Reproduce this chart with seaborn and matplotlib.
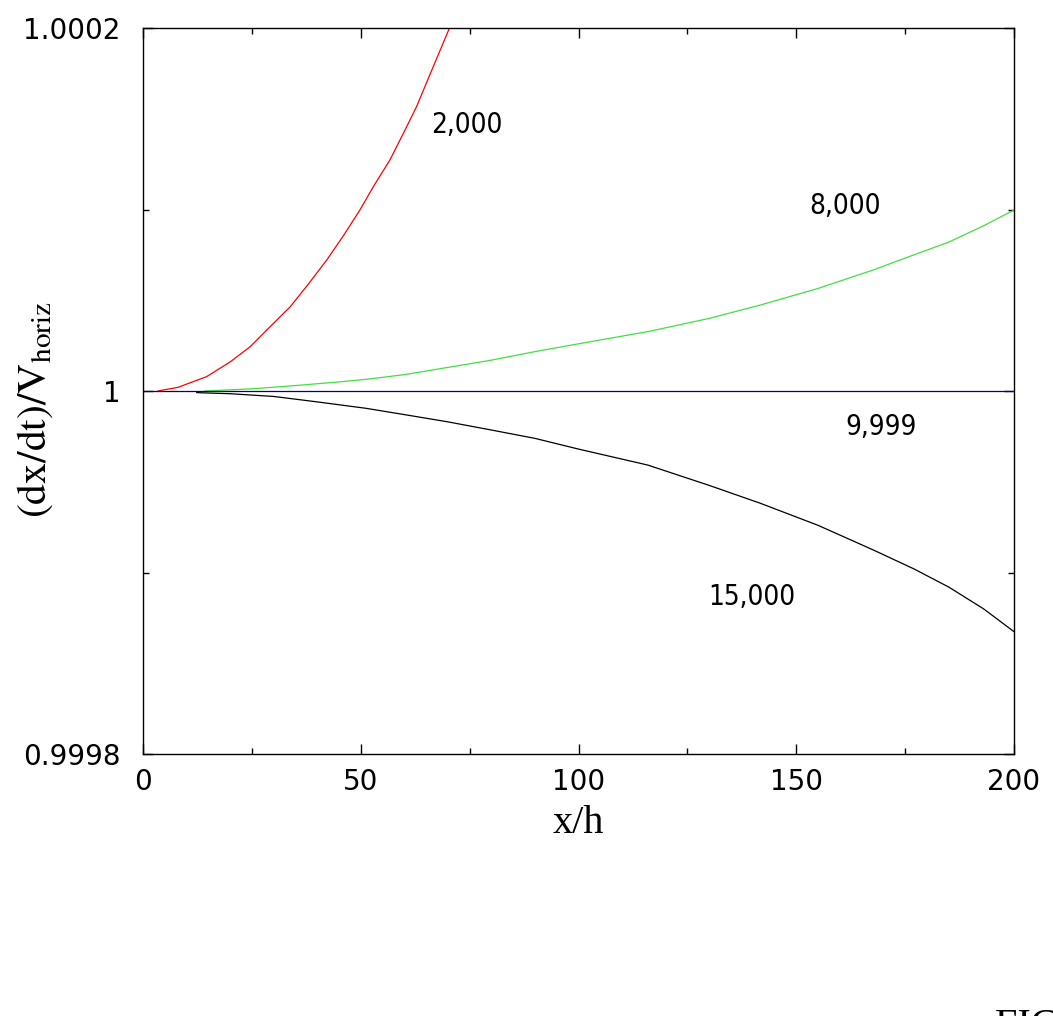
import matplotlib
matplotlib.use("Agg")
import matplotlib.pyplot as plt
import seaborn as sns
import pandas as pd
from matplotlib.ticker import FixedLocator

# ---- data (deviation from 1 in units of 1e-4) ----
x_2000 = [3.4, 8.0, 14.6, 20.0, 24.6, 29.0, 33.8, 38.0, 42.2, 46.0, 49.8,
          53.0, 56.7, 60.0, 62.8, 66.0, 70.5, 72.0]
d_2000 = [0.0, 0.02, 0.079, 0.16, 0.244, 0.35, 0.464, 0.59, 0.722, 0.855,
          0.997, 1.13, 1.273, 1.43, 1.566, 1.75, 2.007, 2.09]

x_8000 = [14.2, 25.0, 35.0, 45.0, 51.1, 60.0, 70.0, 80.0, 90.0, 100.0,
          115.9, 130.0, 141.8, 155.0, 167.7, 177.0, 185.0, 193.0, 200.0]
d_8000 = [0.0, 0.012, 0.03, 0.05, 0.064, 0.09, 0.13, 0.17, 0.217, 0.26,
          0.327, 0.40, 0.474, 0.565, 0.667, 0.75, 0.82, 0.91, 0.997]

x_9999 = [0.0, 200.0]
d_9999 = [0.0, 0.0]

x_15000 = [12.3, 20.0, 30.0, 40.0, 51.1, 60.0, 70.0, 80.0, 90.0, 100.0,
           115.9, 130.0, 141.8, 155.0, 167.7, 177.0, 185.0, 193.0, 200.0]
d_15000 = [-0.009, -0.015, -0.03, -0.06, -0.095, -0.13, -0.17, -0.215,
           -0.261, -0.32, -0.408, -0.52, -0.619, -0.74, -0.876, -0.98,
           -1.08, -1.2, -1.326]

series_names = ["2,000", "8,000", "9,999", "15,000"]
series_colors = ["#ff0000", "#44dd44", "#000080", "#000000"]
label_x = [74.4, 161.2, 169.5, 139.8]
label_dev = [1.466, 1.019, -0.198, -1.135]

x_ticks = [0, 50, 100, 150, 200]
x_minor = [25, 75, 125, 175]
y_ticks = [0.9998, 1.0, 1.0002]
y_tick_labels = ["0.9998", "1", "1.0002"]
y_minor = [0.9999, 1.0001]

# ---- build long table ----
rows = []
for name, xs, ds in zip(series_names,
                        [x_2000, x_8000, x_9999, x_15000],
                        [d_2000, d_8000, d_9999, d_15000]):
    for xv, dv in zip(xs, ds):
        rows.append({"x": xv, "v": 1.0 + dv * 1e-4, "series": name})
df = pd.DataFrame(rows)

sns.set_theme(style="white")
plt.rcParams["font.family"] = ["DejaVu Sans"]
plt.rcParams["mathtext.fontset"] = "stix"
plt.rcParams["text.color"] = "black"
plt.rcParams["axes.labelcolor"] = "black"
plt.rcParams["xtick.color"] = "black"
plt.rcParams["ytick.color"] = "black"

fig = plt.figure(figsize=(10.53, 10.16), dpi=100)
ax = fig.add_axes([143 / 1053, 1 - 754 / 1016, 871 / 1053, 726 / 1016])

sns.lineplot(data=df, x="x", y="v", hue="series", hue_order=series_names,
             palette=dict(zip(series_names, series_colors)),
             estimator=None, sort=False, legend=False, linewidth=0.9, ax=ax)

ax.set_xlim(0, 200)
ax.set_ylim(0.9998, 1.0002)

ax.set_xticks(x_ticks)
ax.set_xticklabels([str(t) for t in x_ticks])
ax.xaxis.set_minor_locator(FixedLocator(x_minor))
ax.set_yticks(y_ticks)
ax.set_yticklabels(y_tick_labels)
ax.yaxis.set_minor_locator(FixedLocator(y_minor))

ax.tick_params(which="both", direction="in", top=True, right=True,
               bottom=True, left=True, color="black", labelcolor="black",
               width=1.0)
ax.tick_params(which="major", length=7, labelsize=20)
ax.tick_params(which="minor", length=4)
ax.tick_params(axis="y", which="major", pad=16)
ax.tick_params(axis="x", which="major", pad=10)

for sp in ax.spines.values():
    sp.set_color("black")
    sp.set_linewidth(1.0)

ax.set_xlabel("x/h", family="Liberation Serif", fontsize=29, color="black")
ax.xaxis.set_label_coords(0.5, -0.07)
ax.set_ylabel(r"$\mathrm{(dx/dt)/V_{horiz}}$", fontsize=30, color="black")
ax.yaxis.set_label_coords(-0.101, 0.474)

for name, lx, ld in zip(series_names, label_x, label_dev):
    ax.text(lx, 1.0 + ld * 1e-4, name, ha="center", va="center",
            fontsize=20, fontstretch="condensed", family="DejaVu Sans",
            color="black")

fig.text(995 / 1053, 1 - 1008 / 1016, "FIG. 1", ha="left", va="top",
         fontsize=29, family="Liberation Serif", color="black")

fig.savefig("out.png", dpi=100, facecolor="white")
